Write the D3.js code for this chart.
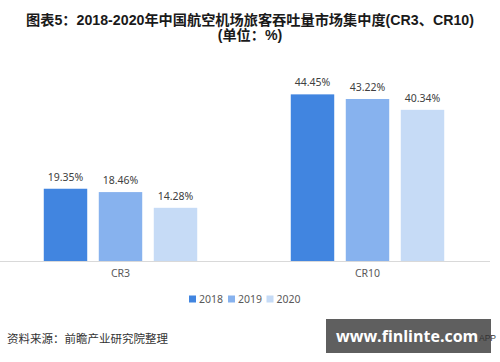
<!DOCTYPE html>
<html lang="zh">
<head>
<meta charset="UTF-8">
<title>CR3 CR10</title>
<script src="https://d3js.org/d3.v7.min.js"></script>
<style>
  body { margin: 0; background: #fff; }
  svg { display: block; font-family: "Liberation Sans", "Noto Sans CJK SC", sans-serif; }
</style>
</head>
<body>
<svg id="chart" width="500" height="362"></svg>
<script>
  // data
  const categories = ["CR3", "CR10"];
  const years = ["2018", "2019", "2020"];
  const values2018 = [19.35, 44.45];
  const values2019 = [18.46, 43.22];
  const values2020 = [14.28, 40.34];
  const colors = ["#4185e0", "#87b2ee", "#c6dbf6"];

  const series = [values2018, values2019, values2020];
  const svg = d3.select("#chart");
  const baseY = 261.5;

  const x0 = d3.scaleBand().domain(categories).range([-3, 491]);
  const x1 = d3.scaleBand().domain(years).range([-82.5, 82.5])
    .paddingInner(0.21).paddingOuter(0.105);
  const y = d3.scaleLinear().domain([0, 50]).range([baseY, baseY - 188]);

  // faint watermarks
  [[70, 200], [300, 150], [260, 330]].forEach(p => {
    svg.append("text")
      .attr("transform", `translate(${p[0]},${p[1]}) rotate(-35)`)
      .attr("font-size", 30).attr("font-weight", "bold")
      .attr("font-family", "Noto Sans CJK SC")
      .attr("fill", "#000").attr("fill-opacity", 0.025)
      .text("前瞻产业研究院");
  });

  // title
  svg.append("text").attr("x", 250).attr("y", 25).attr("text-anchor", "middle")
    .attr("font-size", 14.2).attr("font-weight", "bold").attr("fill", "#1a1a1a")
    .text("图表5：2018-2020年中国航空机场旅客吞吐量市场集中度(CR3、CR10)");
  svg.append("text").attr("x", 250).attr("y", 40).attr("text-anchor", "middle")
    .attr("font-size", 14.2).attr("font-weight", "bold").attr("fill", "#1a1a1a")
    .text("(单位：%)");

  // bars
  const groups = svg.selectAll("g.cat").data(categories).join("g")
    .attr("class", "cat")
    .attr("transform", d => `translate(${x0(d) + x0.bandwidth() / 2},0)`);

  groups.each(function(cat, ci) {
    const g = d3.select(this);
    years.forEach((yr, yi) => {
      const v = series[yi][ci];
      g.append("rect")
        .attr("x", x1(yr)).attr("width", x1.bandwidth())
        .attr("y", y(v)).attr("height", baseY - y(v))
        .attr("fill", colors[yi]);
      g.append("text")
        .attr("x", x1(yr) + x1.bandwidth() / 2).attr("y", y(v) - 8)
        .attr("text-anchor", "middle").attr("font-size", 10.5)
        .attr("font-family", "Noto Sans, sans-serif")
        .attr("fill", "#404040").text(v.toFixed(2) + "%");
    });
  });

  // axis line and category labels
  svg.append("line").attr("x1", 0).attr("x2", 490).attr("y1", baseY).attr("y2", baseY)
    .attr("stroke", "#d9d9d9").attr("stroke-width", 1);
  svg.selectAll("text.cat-label").data(categories).join("text")
    .attr("class", "cat-label")
    .attr("x", d => x0(d) + x0.bandwidth() / 2).attr("y", 277)
    .attr("text-anchor", "middle").attr("font-size", 10.5)
    .attr("font-family", "Noto Sans, sans-serif")
    .attr("fill", "#595959").text(d => d);

  // legend
  const legendX = [189, 228, 266.5];
  years.forEach((yr, i) => {
    svg.append("rect").attr("x", legendX[i]).attr("y", 295.5).attr("width", 7).attr("height", 7)
      .attr("fill", colors[i]);
    svg.append("text").attr("x", legendX[i] + 10).attr("y", 303)
      .attr("font-size", 10.5).attr("font-family", "Noto Sans, sans-serif")
      .attr("fill", "#595959").text(yr);
  });

  // source
  svg.append("text").attr("x", 7).attr("y", 343)
    .attr("font-size", 11.5).attr("font-family", "Noto Sans CJK SC")
    .attr("fill", "#333").text("资料来源：前瞻产业研究院整理");

  // site stamp
  svg.append("rect").attr("x", 326).attr("y", 319).attr("width", 165).attr("height", 34)
    .attr("fill", "#5f5f5f");
  svg.append("text").attr("x", 336).attr("y", 342)
    .attr("font-size", 16).attr("font-weight", "bold").attr("font-family", "Open Sans, sans-serif")
    .attr("fill", "#fff").text("www.finlinte.com");
  svg.append("text").attr("x", 479).attr("y", 341)
    .attr("font-size", 8.5).attr("fill", "#333").text("APP");
</script>
</body>
</html>
